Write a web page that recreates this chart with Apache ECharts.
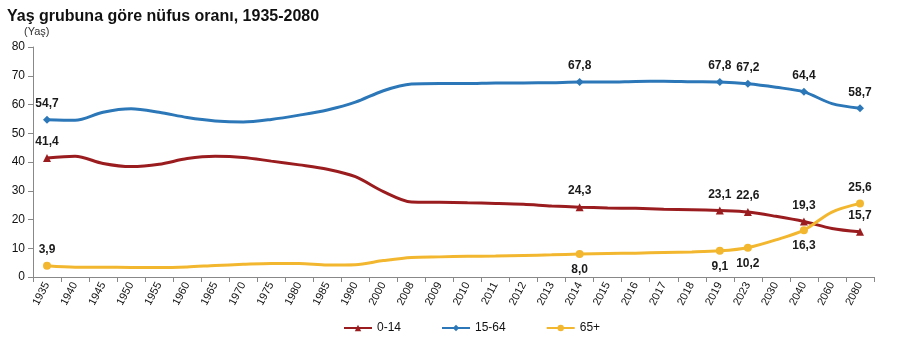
<!DOCTYPE html>
<html><head><meta charset="utf-8">
<script src="https://cdn.jsdelivr.net/npm/echarts@6/dist/echarts.min.js"></script>
<style>html,body{margin:0;padding:0;background:#fff}#c{width:900px;height:345px}</style>
</head><body><div id="c"></div>
<script>
var categories = ['1935','1940','1945','1950','1955','1960','1965','1970','1975','1980','1985','1990','2000','2008','2009','2010','2011','2012','2013','2014','2015','2016','2017','2018','2019','2023','2030','2040','2060','2080'];
var age0_14 = [41.4,42.0,39.5,38.4,39.2,41.2,42.0,41.6,40.3,39.0,37.5,34.9,29.7,26.1,26.0,25.8,25.6,25.3,24.7,24.3,24.0,23.9,23.6,23.4,23.1,22.6,21.1,19.3,16.9,15.7];
var age15_64 = [54.7,54.5,57.3,58.5,57.3,55.5,54.3,53.9,54.8,56.3,58.1,60.8,64.8,67.1,67.3,67.3,67.5,67.5,67.6,67.8,67.8,68.0,68.1,67.9,67.8,67.2,66.0,64.4,60.3,58.7];
var age65 = [3.9,3.4,3.4,3.3,3.3,3.5,4.0,4.4,4.7,4.7,4.2,4.3,5.7,6.8,7.0,7.2,7.3,7.5,7.7,8.0,8.2,8.3,8.5,8.7,9.1,10.2,12.9,16.3,22.6,25.6];
var yTicks = [0,10,20,30,40,50,60,70,80];
var labeledIdx = [0,19,24,25,27,29];
var below65 = [19,24,25,27];

function fmt(v){return v.toFixed(1).replace('.', ',');}
function build(arr, belowList){
  return arr.map(function(v,i){
    var on = labeledIdx.indexOf(i) >= 0;
    var below = belowList.indexOf(i) >= 0;
    return {value:v, symbolSize: on ? 8 : 0,
      label:{show:on, position: below ? 'bottom' : 'top', distance: 6}};
  });
}
var chart = echarts.init(document.getElementById('c'));
var lblStyle = {fontFamily:'Liberation Sans, Arial', fontSize:12, fontWeight:'bold', color:'#1a1a1a', formatter:function(p){return fmt(p.value);}};
chart.setOption({
  animation:false,
  title:{text:'Yaş grubuna göre nüfus oranı, 1935-2080', left:2, top:4,
    textStyle:{fontFamily:'Liberation Sans, Arial', fontSize:16, fontWeight:'bold', color:'#111'}},
  graphic:[{type:'text', left:24, top:26, style:{text:'(Yaş)', font:'11px Liberation Sans, Arial', fill:'#333'}}],
  grid:{left:33, right:26, top:47, bottom:68},
  legend:{bottom:6, left:338, itemGap:40, itemWidth:28, itemHeight:8,
    textStyle:{fontFamily:'Liberation Sans, Arial', fontSize:12, color:'#111'},
    data:['0-14','15-64','65+']},
  xAxis:{type:'category', data:categories, boundaryGap:true,
    axisLine:{lineStyle:{color:'#888'}}, axisTick:{show:true, length:5, lineStyle:{color:'#888'}},
    axisLabel:{rotate:62, interval:0, fontFamily:'Liberation Sans, Arial', fontSize:11, color:'#111', margin:6}},
  yAxis:{type:'value', min:0, max:80, interval:10,
    axisLine:{show:true, lineStyle:{color:'#888'}}, axisTick:{show:true, length:5, lineStyle:{color:'#888'}},
    splitLine:{show:false},
    axisLabel:{fontFamily:'Liberation Sans, Arial', fontSize:12, color:'#111', margin:8,
      formatter:function(v){return yTicks.indexOf(v)>=0 ? String(v) : '';}}},
  series:[
    {name:'0-14', type:'line', smooth:0.3, data:build(age0_14, []), symbol:'triangle',
      itemStyle:{color:'#9a1c1f'}, lineStyle:{width:3, color:'#9a1c1f'}, label:lblStyle},
    {name:'15-64', type:'line', smooth:0.3, data:build(age15_64, []), symbol:'diamond',
      itemStyle:{color:'#2b77b8'}, lineStyle:{width:3, color:'#2b77b8'}, label:lblStyle},
    {name:'65+', type:'line', smooth:0.3, data:build(age65, below65), symbol:'circle',
      itemStyle:{color:'#f3b72f'}, lineStyle:{width:3, color:'#f3b72f'}, label:lblStyle}
  ]
});
</script></body></html>
